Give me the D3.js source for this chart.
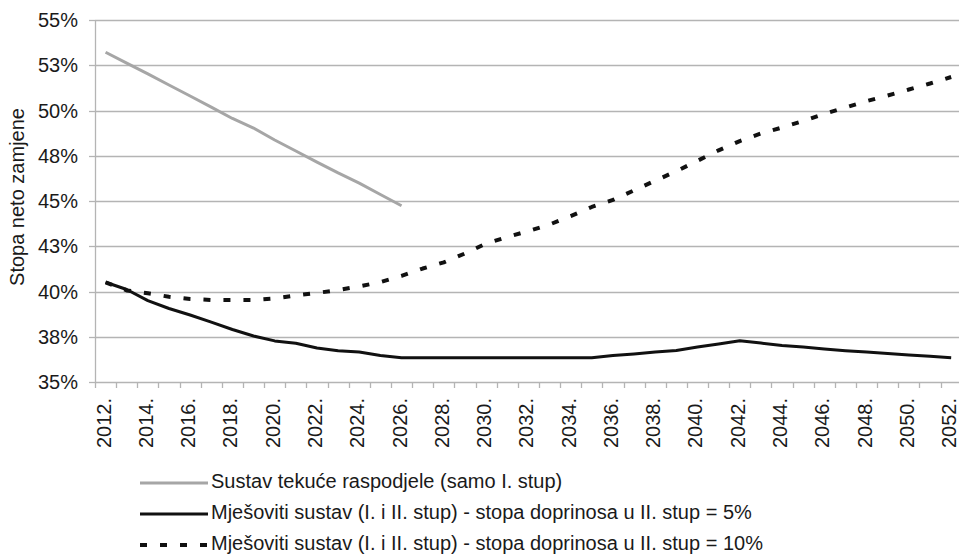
<!DOCTYPE html>
<html>
<head>
<meta charset="utf-8">
<script src="https://cdn.jsdelivr.net/npm/d3@7"></script>
<style>
  body { margin: 0; background: #fff; }
  svg text { font-family: "Liberation Sans", Arial, sans-serif; fill: #1a1a1a; }
</style>
</head>
<body>
<div id="chart"></div>
<script>
// years 2012..2052
const years = d3.range(2012, 2053);

// Sustav tekuće raspodjele (samo I. stup), 2012..2026
const payg = [53.22, 52.62, 52.02, 51.41, 50.80, 50.19, 49.56, 49.03, 48.37, 47.76, 47.15, 46.55, 45.99, 45.36, 44.74];

// Mješoviti sustav - 5%
const mixed5 = [40.51, 40.11, 39.50, 39.06, 38.70, 38.31, 37.90, 37.54, 37.27, 37.14,
  36.88, 36.73, 36.66, 36.46, 36.34, 36.34, 36.34, 36.34, 36.34, 36.34,
  36.34, 36.34, 36.34, 36.34, 36.46, 36.55, 36.66, 36.74, 36.93, 37.10,
  37.28, 37.15, 37.02, 36.93, 36.82, 36.73, 36.66, 36.57, 36.49, 36.42, 36.34];

// Mješoviti sustav - 10%
const mixed10 = [40.51, 40.06, 39.90, 39.71, 39.59, 39.53, 39.53, 39.53, 39.61, 39.78,
  39.92, 40.08, 40.28, 40.52, 40.86, 41.27, 41.61, 42.10, 42.65, 43.01,
  43.34, 43.70, 44.17, 44.67, 45.06, 45.59, 46.12, 46.65, 47.22, 47.80,
  48.31, 48.73, 49.06, 49.42, 49.81, 50.17, 50.52, 50.83, 51.16, 51.49, 51.85];

const yTicks = [35, 37.5, 40, 42.5, 45, 47.5, 50, 52.5, 55];

const legendLabels = [
  "Sustav tekuće raspodjele (samo I. stup)",
  "Mješoviti sustav (I. i II. stup) - stopa doprinosa u II. stup = 5%",
  "Mješoviti sustav (I. i II. stup) - stopa doprinosa u II. stup = 10%"
];

const width = 959, height = 559;
const margin = { top: 20, left: 95, bottom: 382 };
const plotRight = 95 + 41 * 21.14;

const svg = d3.select("#chart").append("svg")
  .attr("width", width)
  .attr("height", height);

const x = d3.scaleBand()
  .domain(years)
  .range([margin.left, plotRight]);

const y = d3.scaleLinear()
  .domain([35, 55])
  .range([margin.bottom, margin.top]);

const gridColor = "#b4b4b4";

// horizontal grid
svg.append("g")
  .selectAll("line")
  .data(yTicks)
  .enter().append("line")
  .attr("x1", margin.left)
  .attr("x2", plotRight)
  .attr("y1", d => Math.round(y(d)) + 0.5)
  .attr("y2", d => Math.round(y(d)) + 0.5)
  .attr("stroke", gridColor)
  .attr("stroke-width", 1.3);

// y axis line
svg.append("line")
  .attr("x1", margin.left + 0.5).attr("x2", margin.left + 0.5)
  .attr("y1", margin.top).attr("y2", margin.bottom + 6)
  .attr("stroke", gridColor)
  .attr("stroke-width", 1.3);

// y tick marks + labels
svg.append("g")
  .selectAll("line")
  .data(yTicks)
  .enter().append("line")
  .attr("x1", margin.left - 6).attr("x2", margin.left)
  .attr("y1", d => Math.round(y(d)) + 0.5)
  .attr("y2", d => Math.round(y(d)) + 0.5)
  .attr("stroke", gridColor)
  .attr("stroke-width", 1.3);

svg.append("g")
  .selectAll("text")
  .data(yTicks)
  .enter().append("text")
  .attr("x", 78)
  .attr("y", d => y(d))
  .attr("dy", "0.35em")
  .attr("text-anchor", "end")
  .style("font-size", "20px")
  .text(d => Math.round(d) + "%");

// x tick marks at band edges
svg.append("g")
  .selectAll("line")
  .data(years.slice(1))
  .enter().append("line")
  .attr("x1", d => Math.round(x(d)) + 0.5)
  .attr("x2", d => Math.round(x(d)) + 0.5)
  .attr("y1", margin.bottom)
  .attr("y2", margin.bottom + 6)
  .attr("stroke", gridColor)
  .attr("stroke-width", 1.3);

// x labels, every other year
svg.append("g")
  .selectAll("text")
  .data(years.filter(d => (d - 2012) % 2 === 0))
  .enter().append("text")
  .attr("transform", d => `translate(${x(d) + x.bandwidth() / 2 - 2},398) rotate(-90)`)
  .attr("dy", "0.35em")
  .attr("text-anchor", "end")
  .style("font-size", "20px")
  .text(d => d + ".");

// y axis title
svg.append("text")
  .attr("transform", "translate(24,197) rotate(-90)")
  .attr("text-anchor", "middle")
  .style("font-size", "20px")
  .text("Stopa neto zamjene");

const cx = d => x(d) + x.bandwidth() / 2;

const line = d3.line()
  .x(d => cx(d.year))
  .y(d => y(d.value));

const series = [
  { values: payg, color: "#a6a6a6", width: 3, dash: null },
  { values: mixed5, color: "#111", width: 3, dash: null },
  { values: mixed10, color: "#111", width: 4, dash: "7,13" }
];

series.forEach(s => {
  const pts = s.values.map((v, i) => ({ year: years[i], value: v }));
  svg.append("path")
    .datum(pts)
    .attr("fill", "none")
    .attr("stroke", s.color)
    .attr("stroke-width", s.width)
    .attr("stroke-linejoin", "round")
    .attr("stroke-dasharray", s.dash)
    .attr("d", line);
});

// legend
const legendY = [488, 519, 550];
const legend = svg.append("g")
  .selectAll("g")
  .data(series)
  .enter().append("g")
  .attr("transform", (d, i) => `translate(0,${legendY[i]})`);

legend.append("line")
  .attr("x1", 140).attr("x2", 208)
  .attr("y1", -5).attr("y2", -5)
  .attr("stroke", d => d.color)
  .attr("stroke-width", d => d.width)
  .attr("stroke-dasharray", d => d.dash);

legend.append("text")
  .attr("x", 211)
  .attr("y", 0)
  .style("font-size", "20px")
  .text((d, i) => legendLabels[i]);
</script>
</body>
</html>
